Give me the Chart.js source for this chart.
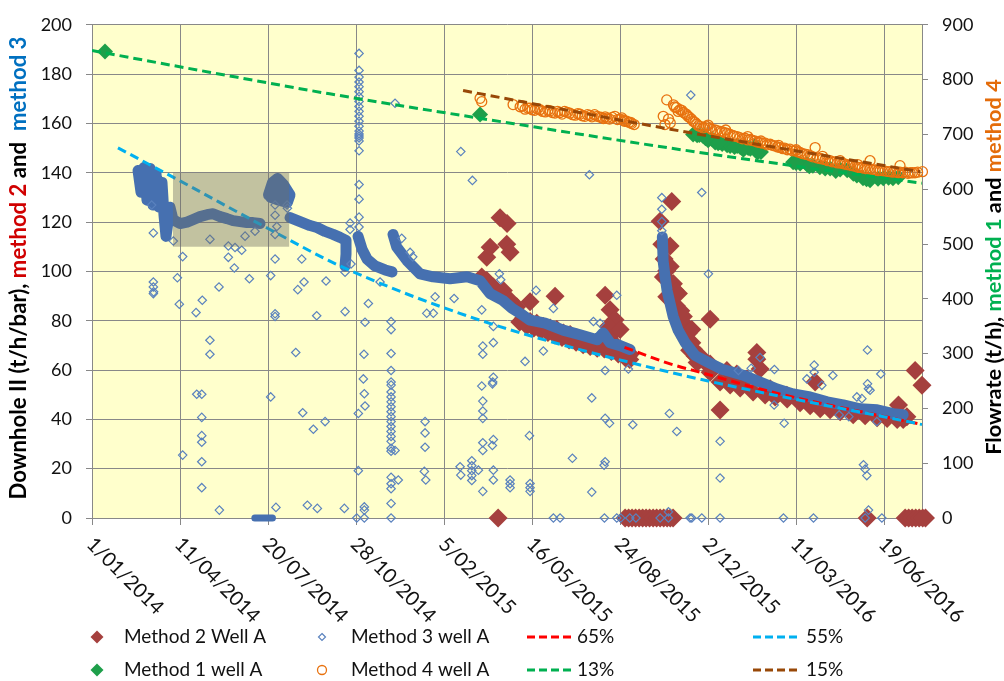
<!DOCTYPE html>
<html>
<head>
<meta charset="utf-8">
<script src="https://cdn.jsdelivr.net/npm/chart.js@4.4.1/dist/chart.umd.min.js"></script>
<style>
  html, body { margin: 0; padding: 0; background: #fff; }
  canvas { display: block; }
</style>
</head>
<body>
<canvas id="chart" width="1004" height="681"></canvas>
<script>
// x values are days after 1/01/2014
const X_MAX = 943;
const X_STEP = 100;
const LEFT_MAX = 200, LEFT_STEP = 20;
const RIGHT_MAX = 900, RIGHT_STEP = 100;

// Method 2 well A, downhole II (left axis)
const method2Pts = [
  [442.8,97.7],[448.5,105.7],[452.3,109.8],[463.6,121.8],[471.6,119.4],[471.2,111],[475,107.8],[461.4,0],
  [448.5,96.3],[456,93.7],[467.4,92.3],[475,88.3],[482.6,85.7],[490.1,81],[497.7,79.7],[505.3,79],[512.8,77.7],
  [520.5,77],[528.1,76.4],[535.6,75],[543.2,74.4],[550.8,73.1],[558.3,71.7],[565.9,71.1],[573.5,70.4],[581,71.1],
  [588.6,73.7],[592.4,71.1],[600,68.4],[607.6,67.1],[611.4,66.4],
  [486,79.5],[494,78],[502,77],[510,76],[518,75.2],[526,74.2],[534,73.2],[542,72.2],[550,71.3],[558,70.3],
  [566,69.5],[574,68.8],[582,68.5],[590,67.5],[598,66.5],[606,65],[611,64.3],
  [497.7,87.7],[526.1,89.9],[583,90.3],[588.6,84.4],[594.3,80.4],[586.7,77.7],[600,76.4],[579.2,71.1],[601.9,67.1],[609.4,65.7],
  [658.7,128.3],[645.5,120.3],[647.4,111],[656.8,110.3],[653,100.3],[660.6,95],[662.5,92.3],[653,89.7],[666.3,81.7],
  [673.9,78.4],[677.6,75],[681.5,71.1],[685.2,65.7],[696.6,63.1],[649.2,97.7],[654.9,96.3],[666.3,91],[671.9,81.7],
  [681.5,76.4],[683.3,68.4],[691,65.7],[702.3,62.4],[702.3,80.6],
  [650,105],[657,102],[664,86],[669,84],[675,73],[679,68],
  [713.6,43.8],[721.3,59.8],[732.6,58.4],[744,56.4],[755.3,67.1],[755.3,64.4],[759.1,60.4],[770.5,52.4],[789.4,49.8],
  [821.6,55.1],[916.3,45.8],[925.8,41.1],[935.2,59.8],[943,53.8],
  [687.5,63.1],[702.3,59.1],[713.6,55.1],[725,53.9],[736.4,52.7],[751.1,51.1],[764.8,49.9],[776.1,49.1],[789.8,48.3],
  [804.5,46.7],[815.9,45.5],[827.3,44.3],[838.6,43.9],[850,43.1],[864.8,41.9],[878.4,41.5],[892,40.7],[903.4,40.3],
  [914.8,39.9],[921.6,39.9],
  [605.7,0],[609.7,0],[613.6,0],[617.6,0],[621.6,0],[625.6,0],[629.5,0],[633.5,0],[637.5,0],[641.5,0],[645.5,0],
  [649.5,0],[653.4,0],[657,0],[660.2,0],[880.7,0],[923.9,0],[927.9,0],[931.8,0],[935.8,0],[939.8,0],[943.8,0],[947,0]
];

// Method 3 well A, dense stretches (left axis), one list per unbroken run
const method3Band = [
  [[52.3,140.9],[55.7,132.1],[59.1,142.1],[62.5,128.9],[65.9,141.7],[69.3,126.9],[72.7,139.7],[76.1,126.1],[79.5,136.1],
   [81.8,122.8],[84.1,114.2],[88.6,126],[92,121],[100,119.4],[108,120],[114.8,121],[122.7,122.2],[130.7,123],
   [137.5,123.4],[145.5,122.2],[153.4,121.4],[160.2,120.6],[168.2,120.2],[176.1,119.8],[183,119.8],[190.9,119.4]],
  [[200.5,131],[205,136],[211,137.7],[218,135],[225,131],[222,128],[211,129],[203,130],[212,133],[220,132]],
  [[225,121.8],[236.4,120.2],[247.7,118.6],[255.7,117.8],[264.8,116.2],[273.9,115],[281.8,113.8],[288.6,112.6],
   [288.6,107],[287.5,102.2]],
  [[302.3,114.2],[306.8,109],[312.5,105],[321.6,102.2],[333,100.6],[340.9,99.8]],
  [[342,115],[346.2,109.9],[357.6,104.5],[372.7,99],[387.5,97.8],[406.8,97],[426.1,97.8],[440.9,96.2],[452.3,91],
   [467,88.2],[477.3,85],[486.4,83],[497.7,80.2],[514.8,79],[535.2,76.2],[554.5,74.3],[573.9,72.3],[580.7,75],
   [588.6,71.1],[600,69.9],[611.4,68.3]],
  [[648,114],[648.9,104.2],[651.1,97.8],[653.4,92.2],[656.8,87],[660.2,81.8],[665.9,76.2],[673.9,71.1],[685.2,65.9],
   [700,63.1],[715.9,60.3],[739.8,57.9],[759.1,55.1],[778.4,52.3],[796.6,50.3],[815.9,49.1],[835.2,47.1],[853.4,45.9],
   [872.7,44.3],[892,43.9],[910.2,42.3],[921.6,41.9]]
];
// Method 3 well A, run of zero readings
const method3ZeroRun = [[185,0],[205,0]];

// Method 3 well A, scattered readings (left axis)
const method3Pts = [
  [69.7,95.7],[69.7,93.7],[70,91.7],[69.7,91],[97,97.4],[99.2,86.7],[103,106],[103,25.5],[118.2,83.3],[125.3,88.3],
  [134,72.1],[134,66.4],[119,50.2],[124.7,50.2],[124.7,40.8],[124.7,33.4],[124.7,30.7],[124.7,22.8],[124.7,12.3],
  [144.3,93.7],[154.9,105.7],[161.7,101.4],[178.8,97],[203,98.3],[203,49.1],[208,105],[208,82.8],[208,81.7],
  [233.8,92.6],[238.3,105],[240.9,95.7],[255.3,82],[265.9,96.1],[231.5,67.1],[239.4,42.7],[251.5,36],[264.8,39.1],
  [144.7,3.2],[209,4.3],[244.7,5.2],[256,3.9],[286.7,3.9],
  [208,126.9],[208,122.8],[210,118.2],[208,115],[221.6,126.9],[222,125.6],[67.8,126.9],[92.4,112.3],[134,113],
  [154.9,110.3],[162.5,109.7],[170.1,108.6],[173.9,114.3],[185.2,116.3],[69.7,115.6],
  [300.8,0],[309.4,0],[309.4,4.5],[309.4,3.2],[302.6,19.2],[302.6,42.4],[309.4,50.4],[310.2,45.4],
  [339.8,79.7],[339.8,76.4],[339.8,66.7],[339.8,59.8],[339.8,55.1],[339.8,53.9],[339.8,51.1],[339.8,49.1],[339.8,47.1],
  [339.8,45.1],[339.8,43.1],[339.8,41.1],[339.8,39.1],[339.8,37.1],[339.8,35.1],[339.8,33.1],[339.8,31.1],[339.8,28.3],
  [339.8,27.1],[344.3,27.4],[339.8,16.5],[339.8,13.9],[339.8,11.9],[339.8,5.9],[339.8,0],[348,15.4],
  [378.4,39.1],[378.4,34.5],[378.4,28.7],[377.6,18.9],[379.2,15.4],
  [442.8,53.5],[455,54.4],[444,47.4],[444,43.4],[444,40.4],[444,30.5],[444,27.4],[456,31.8],[454.9,29.4],[444,10.8],
  [418.2,20.8],[419,17.4],[431.5,23.2],[431.5,21.2],[431.5,19.2],[431.5,17.2],[431.5,15.2],[439,19.4],[456,19.4],
  [456,15.4],[475,15.4],[475,13.9],[475,12.3],[497.7,14],[497.7,12.3],[497.7,10.8],
  [497,33.4],[545.8,24.2],[567.8,48.7],[583,40.4],[588,38.4],[583,22.8],[581.8,21.4],[567.8,10.5],
  [524.2,0],[531.8,0],[582.2,0],[596.2,0],[600.8,0],
  [287.5,99.7],[287.5,83.7],[314,87],[310.2,79.4],[309,66.4],[308.3,56.4],[361.4,107.7],[364.4,105.9],[389.8,89.7],
  [380.3,83],[387.8,83],[411.4,89],[442.8,84.4],[456,77.7],[456,71.1],[444,69.7],[444,66.4],[456,57.1],[455.3,55.1],
  [462.8,99],[464.4,96.6],[504.5,92.3],[492,63.5],[512.8,67.7],[524.2,85],[569.7,79.7],[596.2,90.3],[583,59.8],
  [614.4,37.8],[656,42.4],
  [303.4,188.4],[303.4,181.5],[303.4,178.8],[303.4,176.8],[303.4,174.9],[303.4,172.9],[303.4,170.9],[303.4,168.9],
  [303.4,166.9],[303.4,164.9],[303.4,162.9],[303.4,160.9],[303.4,158.9],[303.4,156.9],[303.4,155.7],[303.4,154.9],
  [303.4,154.1],[303.4,152.9],[303.4,148.9],[303.4,135.2],[303.4,129.3],[303.4,122],[303.4,118],[293.2,119.6],
  [293.2,117],[294.3,103],
  [344.3,168.2],[419,148.6],[432.2,136.9],[565.1,139.2],[351.9,113.4],[327.3,95.7],
  [647.4,129.9],[647.4,125.2],[647.4,120.2],[647.4,116.5],
  [680.3,171.5],[692.8,132],[700.3,99],[664.4,35.1],[713.6,31.1],[713.6,16.2],[759,65.1],[775,45.8],[786.4,38.4],
  [812.2,56.4],[820.5,62],[820.5,59.1],[848.9,41.8],[859.9,41.1],[869,49.1],[874.7,48.4],[881,68.1],[881.1,54.4],
  [882.2,52.4],[884,51.8],[891.7,39.1],[896.2,58.4],[876.5,21.6],[878.4,19.8],[880.3,17.2],[748.9,60.7],[734.4,59.8],
  [829.2,53.8],[841.7,57.8],[609.4,60.4],[775.3,60.2],[882.2,3.2],[654.9,2.5],[577.3,79],
  [611,0],[618,0],[645.5,0],[654.9,0],[679.5,0],[681.5,0],[692.8,0],[713.6,0],[785.6,0],[819.7,0],[878.4,0],[897.4,0]
];

// Method 1 well A, flowrate (right axis)
const method1Pts = [
  [14.8,851.5],[440.9,736.5],[683,700],[687.5,698.4],[694.3,697],[700,689.4],[704.5,691.5],[708,685],[711.4,684],
  [716,682.6],[721.6,680.4],[725,679],[733,679],[736.4,676.8],[742,676],[745.5,675],[748,673.6],[753.4,679],[756,667],
  [796.6,649],[804.5,646.7],[812.5,645],[819,643],[827,640],[838.6,637.7],[850,636],[858,634.6],[869,625],[876,620],
  [884,616.5],[899,620],[910,620],[916,622],
  [690,699],[697,693],[713,686],[730,677],[740,672],[760,668],[800,648],[815,642],[833,638],[845,633],[865,628],
  [880,618],[893,619],[905,621]
];

// Method 4 well A, flowrate (right axis)
const method4Pts = [
  [440.9,765.8],[442.8,759.8],[478.4,754.4],[486.4,750.5],[492,746],[497.7,747.8],[503,744],[509,745],[515,741],
  [520.5,743],[526,739],[531.8,740],[537,742],[543,738.8],[549,735],[554.5,737],[560,733],[566,734.7],[571,736],
  [577,731.6],[581,729],[585,729.8],[594,733],[600,728],[604,726],[607.6,724],[610,722],[613,719.8],
  [489,752],[495,748],[500,745],[506,747],[512,742],[518,744],[523,740],[529,742],[534,737],[540,740],[546,736],
  [552,738],[557,734],[563,736],[568,732],[574,733],[579,731],[583,732],[588,728],[591,731],[597,727],[602,730],
  [605,724],[612,722],[616,718],
  [649,733],[651,718],[653,763],[657,721],[655,728],[660.6,754],[664,749],[668,745],[672,740],[675.8,736],[679,731],
  [683,724],[687,719],[691,714.6],[696,713],[702,712],[708,708],[713.6,705.6],[719,703],[725,700],[730,697],[736,694],
  [742,693],[748,691],[753,688],[759,685],[765,684],[770.5,682],[776,679],[782,676],[787,675],[793,673],[799,670],
  [804.5,667],[810,664],[816,661],[821.6,676],[827,656],[833,654],[838.6,652],[844,650],[850,648],[855,646],[861,644],
  [867,642],[872.7,640],[878,638],[884,637],[884,652],[890,635],[895.5,634],[901,633],[907,632],[913,632],[918,643],
  [918,631],[924,631],[929.5,630],[935,630],[943.5,632],
  [700,717],[720,708],[745,696],[760,688],[780,680],[800,672],[830,660],[850,652],[870,645],
  [662,750],[666,742],[670,744],[674,738],[677,733],[681,728],[685,722],[689,716],[694,712],[698,715],[704,709],
  [710,707],[716,705],[722,702],[728,698],[733,696],[739,692],[745,690],[750,689],[756,686],[762,684],[767,681],
  [773,680],[779,677],[785,674],[790,672],[796,670],[802,668],[807,665],[813,663],[819,659],[824,657],[830,655],
  [836,652],[841,650],[847,648],[853,647],[858,645],[864,643],[870,640],[875,639],[881,637],[887,635],[893,634],
  [898,633],[904,632],[910,631],[916,630],[921,630],[927,629],[932,630],[938,631]
];

// trend lines
const trend65 = [[605,69.2],[656,62.6],[697,58.5],[771,51.2],[943,37.9]];
const trend55 = [[29.5,150.1],[100,136.7],[200,117.4],[282,102.2],[441,80.2],[657,59.1],[943,37.9]];
const trend13 = [[0,853],[135,813],[270,774],[450,727],[657,675],[800,642],[943,611]];
const trend15 = [[421.6,780],[657,709.5],[941,632]];

// shaded window (days, left-axis values)
const boxDays = [92, 224];
const boxVals = [110, 140];

const C_M2 = '#A5403E', C_M3 = '#5A82BE', C_BAND = '#4670B0', C_M1 = '#1E9F4A', C_M4 = '#E8720F';
const C_65 = '#FF0000', C_55 = '#00B0F0', C_13 = '#00B050', C_15 = '#984807';
const GRID = '#888888';
const FONT = 'Lato';

const toXY = pts => pts.map(([x, y]) => ({ x, y }));
const bandData = method3Band.flatMap(seg => [...toXY(seg), { x: seg[seg.length - 1][0], y: null }]);

function dateLabel(day) {
  const d = new Date(Date.UTC(2014, 0, 1) + day * 86400000);
  return d.getUTCDate() + '/' + String(d.getUTCMonth() + 1).padStart(2, '0') + '/' + d.getUTCFullYear();
}

function trendSet(label, pts, color, axis, order) {
  return {
    label, data: toXY(pts), yAxisID: axis, showLine: true, borderColor: color, borderWidth: 3,
    borderDash: [9, 5], pointRadius: 0, cubicInterpolationMode: 'monotone', fill: false, order
  };
}

const plotBg = {
  id: 'plotBg',
  beforeDraw(chart) {
    const { ctx, chartArea: a } = chart;
    ctx.save();
    ctx.fillStyle = '#fff';
    ctx.fillRect(0, 0, chart.width, chart.height);
    ctx.fillStyle = '#FFFFCC';
    ctx.fillRect(a.left, a.top, a.right - a.left, a.bottom - a.top);
    ctx.restore();
  }
};

const shadeBox = {
  id: 'shadeBox',
  afterDatasetsDraw(chart) {
    const { ctx, scales } = chart;
    const x1 = scales.x.getPixelForValue(boxDays[0]), x2 = scales.x.getPixelForValue(boxDays[1]);
    const y1 = scales.y.getPixelForValue(boxVals[1]), y2 = scales.y.getPixelForValue(boxVals[0]);
    ctx.save();
    ctx.fillStyle = 'rgba(110,110,100,0.42)';
    ctx.fillRect(x1, y1, x2 - x1, y2 - y1);
    ctx.restore();
  }
};

function drawVerticalTitle(ctx, pieces, cx, cy, target) {
  let size = 22;
  ctx.font = `bold ${size}px ${FONT}`;
  let w = pieces.reduce((s, p) => s + ctx.measureText(p.t).width, 0);
  size = size * target / w;
  ctx.font = `bold ${size}px ${FONT}`;
  w = pieces.reduce((s, p) => s + ctx.measureText(p.t).width, 0);
  ctx.save();
  ctx.translate(cx, cy);
  ctx.rotate(-Math.PI / 2);
  ctx.textAlign = 'left';
  ctx.textBaseline = 'middle';
  let x = -w / 2;
  pieces.forEach(p => {
    ctx.fillStyle = p.c;
    ctx.fillText(p.t, x, 0);
    x += ctx.measureText(p.t).width;
  });
  ctx.restore();
}

function diamond(ctx, x, y, r) {
  ctx.beginPath();
  ctx.moveTo(x, y - r); ctx.lineTo(x + r, y); ctx.lineTo(x, y + r); ctx.lineTo(x - r, y);
  ctx.closePath();
}

const legendItems = [
  { label: 'Method 2 Well A', kind: 'diamond', color: C_M2, mx: 97, tx: 124, row: 0 },
  { label: 'Method 3 well A', kind: 'hollowDiamond', color: C_M3, mx: 322, tx: 351, row: 0 },
  { label: '65%', kind: 'dash', color: C_65, mx: 527, tx: 577, row: 0 },
  { label: '55%', kind: 'dash', color: C_55, mx: 753, tx: 806, row: 0 },
  { label: 'Method 1 well A', kind: 'diamond', color: C_M1, mx: 97, tx: 124, row: 1 },
  { label: 'Method 4 well A', kind: 'circle', color: C_M4, mx: 322, tx: 351, row: 1 },
  { label: '13%', kind: 'dash', color: C_13, mx: 527, tx: 577, row: 1 },
  { label: '15%', kind: 'dash', color: C_15, mx: 753, tx: 806, row: 1 }
];
const legendRowY = [637, 670];

const extraText = {
  id: 'extraText',
  afterDraw(chart) {
    const { ctx, scales, chartArea: a } = chart;
    const xs = scales.x;
    ctx.save();
    // rotated date labels
    ctx.font = `20px ${FONT}`;
    ctx.fillStyle = '#111';
    ctx.textAlign = 'left';
    ctx.textBaseline = 'middle';
    xs.ticks.forEach(t => {
      const px = xs.getPixelForValue(t.value);
      ctx.save();
      ctx.translate(px - 2, a.bottom + 23);
      ctx.rotate(Math.PI / 4);
      ctx.fillText(dateLabel(t.value), 0, 0);
      ctx.restore();
    });

    drawVerticalTitle(ctx, [
      { t: 'Downhole II (t/h/bar), ', c: '#000' },
      { t: 'method 2', c: '#D00000' },
      { t: ' and  ', c: '#000' },
      { t: 'method 3', c: '#0070C0' }
    ], 19, 268, 463);
    drawVerticalTitle(ctx, [
      { t: 'Flowrate (t/h), ', c: '#000' },
      { t: 'method 1', c: '#00B050' },
      { t: ' and ', c: '#000' },
      { t: 'method 4', c: '#E46C0A' }
    ], 994, 267, 376);

    // legend
    legendItems.forEach(it => {
      const y = legendRowY[it.row];
      ctx.setLineDash([]);
      if (it.kind === 'diamond') {
        diamond(ctx, it.mx, y, 6.5);
        ctx.fillStyle = it.color;
        ctx.fill();
      } else if (it.kind === 'hollowDiamond') {
        diamond(ctx, it.mx, y, 3.5);
        ctx.strokeStyle = it.color;
        ctx.lineWidth = 1.2;
        ctx.stroke();
      } else if (it.kind === 'circle') {
        ctx.beginPath();
        ctx.arc(it.mx, y, 4.5, 0, Math.PI * 2);
        ctx.strokeStyle = it.color;
        ctx.lineWidth = 1.3;
        ctx.stroke();
      } else {
        ctx.beginPath();
        ctx.moveTo(it.mx, y);
        ctx.lineTo(it.mx + 46, y);
        ctx.strokeStyle = it.color;
        ctx.lineWidth = 3;
        ctx.setLineDash([8, 4]);
        ctx.stroke();
        ctx.setLineDash([]);
      }
      ctx.font = `19px ${FONT}`;
      ctx.fillStyle = '#111';
      ctx.textAlign = 'left';
      ctx.textBaseline = 'middle';
      ctx.fillText(it.label, it.tx, y);
    });
    ctx.restore();
  }
};

Chart.defaults.font.family = FONT;

new Chart(document.getElementById('chart'), {
  type: 'scatter',
  data: {
    datasets: [
      trendSet('15%', trend15, C_15, 'y1', 0),
      trendSet('13%', trend13, C_13, 'y1', 1),
      {
        label: 'Method 4 well A', data: toXY(method4Pts), yAxisID: 'y1', pointStyle: 'circle', pointRadius: 5,
        borderColor: C_M4, backgroundColor: 'rgba(0,0,0,0)', borderWidth: 1.3, clip: false, order: 2
      },
      {
        label: 'Method 1 well A', data: toXY(method1Pts), yAxisID: 'y1', pointStyle: 'rectRot', pointRadius: 8,
        borderColor: C_M1, backgroundColor: C_M1, borderWidth: 0, clip: false, order: 3
      },
      trendSet('55%', trend55, C_55, 'y', 4),
      trendSet('65%', trend65, C_65, 'y', 5),
      {
        label: 'Method 3 well A', data: toXY(method3Pts), yAxisID: 'y', pointStyle: 'rectRot', pointRadius: 4.2,
        borderColor: C_M3, backgroundColor: 'rgba(0,0,0,0)', borderWidth: 1.2, clip: false, order: 6
      },
      {
        label: 'Method 3 well A dense', data: bandData, yAxisID: 'y', showLine: true, spanGaps: false,
        borderColor: C_BAND, borderWidth: 11, borderJoinStyle: 'round', borderCapStyle: 'round',
        pointRadius: 0, fill: false, clip: false, order: 7
      },
      {
        label: 'Method 3 well A zeros', data: toXY(method3ZeroRun), yAxisID: 'y', showLine: true,
        borderColor: C_BAND, borderWidth: 7, borderCapStyle: 'round',
        pointRadius: 0, fill: false, clip: false, order: 7
      },
      {
        label: 'Method 2 Well A', data: toXY(method2Pts), yAxisID: 'y', pointStyle: 'rectRot', pointRadius: 9.5,
        borderColor: C_M2, backgroundColor: C_M2, borderWidth: 0, clip: false, order: 8
      }
    ]
  },
  options: {
    responsive: false,
    animation: false,
    devicePixelRatio: 1,
    layout: { padding: { top: 17, left: 0, right: 0, bottom: 0 } },
    plugins: { legend: { display: false }, tooltip: { enabled: false } },
    scales: {
      x: {
        type: 'linear', min: 0, max: X_MAX,
        ticks: { display: false, stepSize: X_STEP, includeBounds: false },
        grid: { color: GRID, tickLength: 7 },
        border: { color: GRID },
        afterFit: s => { s.height = 163; }
      },
      y: {
        type: 'linear', position: 'left', min: 0, max: LEFT_MAX,
        ticks: { stepSize: LEFT_STEP, padding: 14, color: '#111', font: { size: 18 } },
        grid: { color: GRID, tickLength: 6 },
        border: { color: GRID },
        afterFit: s => { s.width = 92; }
      },
      y1: {
        type: 'linear', position: 'right', min: 0, max: RIGHT_MAX,
        ticks: { stepSize: RIGHT_STEP, padding: 14, color: '#111', font: { size: 18 } },
        grid: { drawOnChartArea: false, color: GRID, tickLength: 6 },
        border: { color: GRID },
        afterFit: s => { s.width = 82; }
      }
    }
  },
  plugins: [plotBg, shadeBox, extraText]
});
</script>
</body>
</html>
